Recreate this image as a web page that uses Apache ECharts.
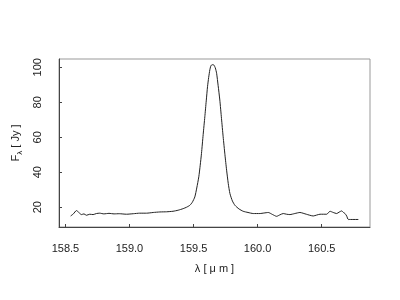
<!DOCTYPE html>
<html>
<head>
<meta charset="utf-8">
<script src="https://cdn.jsdelivr.net/npm/echarts@6/dist/echarts.min.js"></script>
<style>html,body{margin:0;padding:0;background:#fff}#c{width:400px;height:300px}</style>
</head>
<body>
<div id="c"></div>
<script>
var wavelength = [158.541,158.562,158.586,158.605,158.625,158.645,158.664,158.69,158.716,158.742,158.768,158.8,158.84,158.88,158.92,158.977,159.03,159.08,159.133,159.185,159.237,159.29,159.34,159.38,159.419,159.445,159.471,159.49,159.51,159.525,159.541,159.552,159.562,159.575,159.588,159.599,159.609,159.618,159.627,159.634,159.64,159.65,159.659,159.67,159.68,159.692,159.705,159.718,159.731,159.745,159.758,159.771,159.784,159.803,159.823,159.855,159.887,159.925,159.966,160.018,160.05,160.083,160.115,160.148,160.175,160.2,160.226,160.252,160.29,160.33,160.38,160.434,160.46,160.487,160.513,160.539,160.565,160.59,160.617,160.636,160.656,160.67,160.682,160.695,160.708,160.786];
var flux = [15.0,16.2,18.1,17.0,15.8,16.2,15.4,16.0,15.8,16.4,16.6,16.2,16.5,16.2,16.3,16.0,16.3,16.6,16.6,17.0,17.3,17.4,17.7,18.3,19.2,20.0,21.1,22.8,25.9,31.0,37.4,44.0,50.8,61.5,71.7,80.8,88.9,94.2,98.5,100.6,101.3,101.5,101.3,99.6,96.6,89.5,81.3,70.8,60.3,50.0,41.2,33.5,27.8,23.6,21.1,19.0,17.7,17.0,16.4,16.4,16.7,17.0,15.9,14.8,15.7,16.4,16.0,15.8,16.4,17.0,16.0,15.0,15.5,16.0,16.0,16.0,17.7,17.0,16.4,17.2,17.9,17.0,16.4,15.0,13.0,13.0];
var xTicks = [158.5,159.0,159.5,160.0,160.5];
var yTicks = [20,40,60,80,100];

var chart = echarts.init(document.getElementById('c'), null, {renderer:'canvas'});
var font = 'Liberation Sans, Arial, Helvetica, sans-serif';
var data = wavelength.map(function(x,i){return [x, flux[i]];});
chart.setOption({
  animation:false,
  backgroundColor:'#fff',
  grid:{left:59, top:59, width:311, height:168, show:true, borderColor:'#999', borderWidth:1, containLabel:false},
  xAxis:{
    type:'value', min:158.45, max:160.877,
    name:'λ [ μ m ]', nameLocation:'middle', nameGap:36,
    nameTextStyle:{fontFamily:font, fontSize:11, color:'#222'},
    axisLine:{show:true, onZero:false, lineStyle:{color:'#444', width:1}},
    axisTick:{show:true, inside:true, length:3, customValues:xTicks, lineStyle:{color:'#444'}},
    axisLabel:{show:true, customValues:xTicks, margin:16, fontFamily:font, fontSize:11, color:'#222',
      formatter:function(v){return v.toFixed(1);}},
    splitLine:{show:false}
  },
  yAxis:{
    type:'value', min:8.7, max:104.75,
    name:'{a|F}{b|λ}{a| [ Jy ]}', nameLocation:'middle', nameGap:29, nameRotate:90,
    nameTextStyle:{fontFamily:font, fontSize:11, color:'#222',
      rich:{a:{fontFamily:font, fontSize:11, color:'#222'}, b:{fontFamily:font, fontSize:8, color:'#222', verticalAlign:'bottom', padding:[0,0,-3,0]}}},
    axisLine:{show:true, onZero:false, lineStyle:{color:'#444', width:1}},
    axisTick:{show:true, inside:true, length:3, customValues:yTicks, lineStyle:{color:'#444'}},
    axisLabel:{show:true, customValues:yTicks, rotate:90, margin:16, fontFamily:font, fontSize:11, color:'#222'},
    splitLine:{show:false}
  },
  series:[{
    type:'line', data:data, showSymbol:false, smooth:0.2,
    lineStyle:{color:'#222', width:1}
  }]
});
</script>
</body>
</html>
